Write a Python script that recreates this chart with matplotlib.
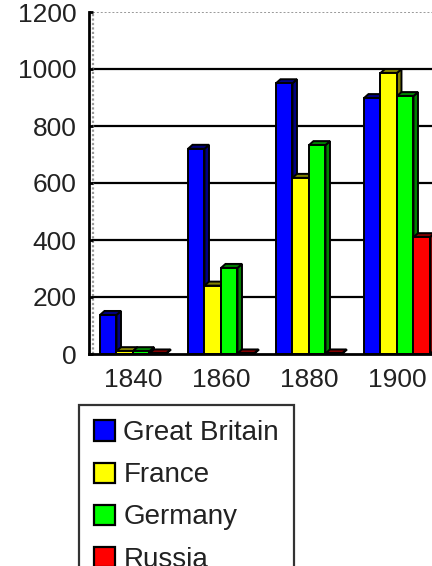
import matplotlib
matplotlib.use("Agg")
import matplotlib.pyplot as plt
from matplotlib.patches import Patch, Polygon
import numpy as np

years = ["1840", "1860", "1880", "1900"]
countries = ["Great Britain", "France", "Germany", "Russia"]
great_britain = [137, 720, 950, 898]
france = [10, 240, 618, 986]
germany = [10, 302, 733, 905]
russia = [2, 2, 2, 410]
series = [great_britain, france, germany, russia]

face_colors = ["#0000ff", "#ffff00", "#00ff00", "#ff0000"]
side_colors = ["#000080", "#808000", "#008000", "#800000"]

plt.rcParams["font.family"] = ["Liberation Sans", "DejaVu Sans"]

W, H = 432, 566
DPI = 100
fig = plt.figure(figsize=(W / DPI, H / DPI), dpi=DPI)
ax = fig.add_axes([89 / W, (H - 354) / H, (W - 89) / W, 342 / H])

bar_w = 0.1875
x = np.arange(len(years))
ax.set_xlim(-0.5, 3.398)
ax.set_ylim(0, 1200)

# extrusion depth in pixels
dx, dy = 4.5, 4.0
edge_kw = dict(edgecolor="black", linewidth=1.4, joinstyle="miter")

z = 3
for j, vals in enumerate(series):
    pos = x - 2 * bar_w + j * bar_w
    for xi, v in zip(pos, vals):
        (x0, y0), (x1, y1) = ax.transData.transform([(xi, 0), (xi + bar_w, v)])
        side = Polygon([(x1, y0), (x1 + dx, y0 + dy), (x1 + dx, y1 + dy), (x1, y1)],
                       closed=True, facecolor=side_colors[j], transform=None,
                       zorder=z, **edge_kw)
        top = Polygon([(x0, y1), (x0 + dx, y1 + dy), (x1 + dx, y1 + dy), (x1, y1)],
                      closed=True, facecolor=side_colors[j], transform=None,
                      zorder=z, **edge_kw)
        side.set_clip_box(ax.bbox)
        top.set_clip_box(ax.bbox)
        ax.add_artist(side)
        ax.add_artist(top)
        ax.bar(xi, v, width=bar_w, align="edge", color=face_colors[j],
               zorder=z + 1, **edge_kw)
        z += 2

# back wall grid
wall = 4 / (W - 89)
for yv in [200, 400, 600, 800, 1000]:
    ax.axhline(yv, xmin=wall, xmax=1, color="black", linewidth=1.6, zorder=1)
ax.axhline(1200, xmin=wall, xmax=1, color="#999999", linewidth=1.4,
           linestyle=(0, (1, 1)), zorder=1)
ax.axvline(-0.5 + 4 / 88, ymin=0, ymax=1, color="#999999", linewidth=1.6,
           linestyle=(0, (1, 1)), zorder=1)

for s in ["top", "right"]:
    ax.spines[s].set_visible(False)
for s in ["left", "bottom"]:
    ax.spines[s].set_linewidth(2)
    ax.spines[s].set_color("black")
    ax.spines[s].set_zorder(100)

ax.set_yticks([0, 200, 400, 600, 800, 1000, 1200])
ax.set_xticks(x)
ax.set_xticklabels(years)
ax.tick_params(axis="y", direction="in", length=3, width=2, pad=9,
               labelsize=19, labelcolor="#222222")
ax.tick_params(axis="x", length=0, pad=10, labelsize=19, labelcolor="#222222")

handles = [Patch(facecolor=c, edgecolor="black", linewidth=1.6) for c in face_colors]
leg = fig.legend(handles, countries, loc="upper left",
                 bbox_to_anchor=(79 / W, 1 - 405 / H), frameon=True,
                 fontsize=20, handlelength=0.75, handleheight=0.75,
                 handletextpad=0.3, labelspacing=0.58, borderpad=0.55,
                 borderaxespad=0, fancybox=False)
leg.get_frame().set_edgecolor("black")
leg.get_frame().set_linewidth(1.6)
for t in leg.get_texts():
    t.set_color("#222222")

fig.savefig("out.png", dpi=DPI)
